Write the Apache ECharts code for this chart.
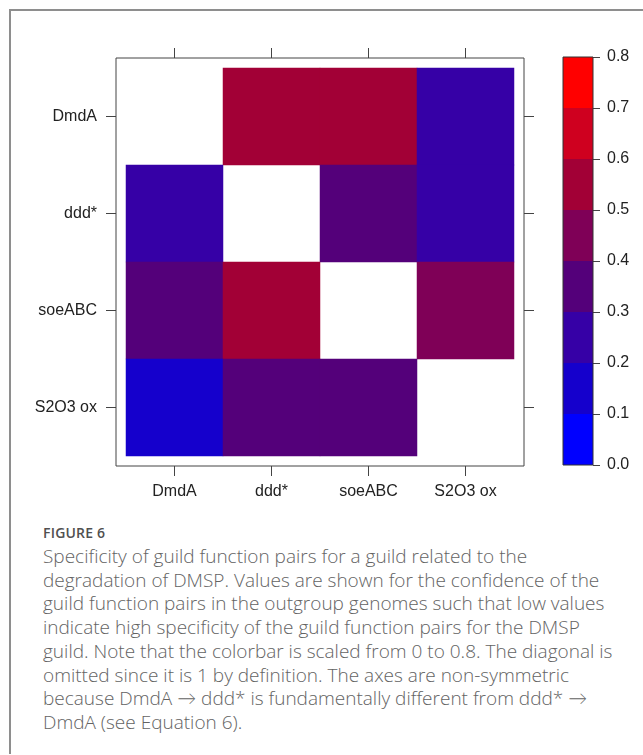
<!DOCTYPE html>
<html>
<head>
<meta charset="utf-8">
<script src="https://cdn.jsdelivr.net/npm/echarts@6/dist/echarts.min.js"></script>
<style>
  html, body { margin: 0; padding: 0; background: #ffffff; }
  #frame {
    position: absolute; left: 9px; top: 9px; width: 640px; height: 743px;
    border-left: 2px solid #8e8e8e; border-top: 2px solid #8e8e8e;
  }
  #chart { position: absolute; left: 0; top: 0; width: 643px; height: 512px; }
  #caption {
    position: absolute; left: 43px; top: 523px; width: 600px;
    font-family: "Open Sans", "Lato", sans-serif; color: #636363;
    white-space: nowrap;
  }
  #caption .fig {
    font-size: 14px; font-weight: 600; letter-spacing: 0.2px; color: #505050;
    line-height: 20px; height: 22px;
  }
  #caption .txt { font-size: 19px; line-height: 23.7px; font-weight: 300; }
</style>
</head>
<body>
<div id="frame"></div>
<div id="chart"></div>
<div id="caption">
  <div class="fig">FIGURE 6</div>
  <div class="txt">
    Specificity of guild function pairs for a guild related to the<br>
    degradation of DMSP. Values are shown for the confidence of the<br>
    guild function pairs in the outgroup genomes such that low values<br>
    indicate high specificity of the guild function pairs for the DMSP<br>
    guild. Note that the colorbar is scaled from 0 to 0.8. The diagonal is<br>
    omitted since it is 1 by definition. The axes are non-symmetric<br>
    because DmdA &rarr; ddd* is fundamentally different from ddd* &rarr;<br>
    DmdA (see Equation 6).
  </div>
</div>
<script>
// Guild functions (same order on both axes; rows listed top to bottom)
const functions = ['DmdA', 'ddd*', 'soeABC', 'S2O3 ox'];

// Confidence of each function pair in outgroup genomes; diagonal omitted (null)
const rowDmdA   = [null, 0.55, 0.56, 0.27];
const rowDdd    = [0.24, null, 0.36, 0.26];
const rowSoeABC = [0.33, 0.57, null, 0.45];
const rowS2O3   = [0.15, 0.35, 0.34, null];
const rows = [rowDmdA, rowDdd, rowSoeABC, rowS2O3];

// Colour scale: break points and the colour of each band
const breaks = [0.0, 0.1, 0.2, 0.3, 0.4, 0.5, 0.6, 0.7, 0.8];
const bandColors = ['#0000ff', '#1500cc', '#3600a6', '#54007a',
                    '#7f0057', '#a20036', '#cf001f', '#ff0000'];

const cells = [];
rows.forEach((row, yi) => {
  row.forEach((v, xi) => { if (v !== null) cells.push([xi, yi, v]); });
});

const pieces = bandColors.map((c, i) => ({ gte: breaks[i], lt: breaks[i + 1], color: c }));

const labelFont = { fontFamily: 'Liberation Sans, Arial, sans-serif', fontSize: 16, color: '#222' };
const tickLine = { color: '#444', width: 1 };

function catAxis(extra) {
  return Object.assign({
    type: 'category', data: functions, gridIndex: 1, offset: 10,
    axisLine: { show: false },
    axisTick: { show: true, alignWithLabel: true, length: 10, lineStyle: tickLine },
    splitLine: { show: false }
  }, extra);
}

// Colour bar built as stacked segments, one per band
const barSeries = bandColors.map((c, i) => ({
  type: 'bar', xAxisIndex: 3, yAxisIndex: 3, stack: 'scale',
  barWidth: '100%', silent: true,
  data: [+(breaks[i + 1] - breaks[i]).toFixed(4)],
  itemStyle: { color: c }
}));

const chart = echarts.init(document.getElementById('chart'), null, { renderer: 'canvas' });
chart.setOption({
  animation: false,
  backgroundColor: 'transparent',
  grid: [
    { left: 116, top: 58, width: 408, height: 408, show: true,
      borderColor: '#444', borderWidth: 1, backgroundColor: 'transparent' },
    { left: 126, top: 68, width: 388, height: 388 },
    { left: 563, top: 57, width: 30, height: 408, show: true,
      borderColor: '#333', borderWidth: 1, backgroundColor: 'transparent', z: 5 }
  ],
  xAxis: [
    { gridIndex: 0, type: 'value', show: false, min: 0, max: 1 },
    catAxis({ position: 'bottom', axisLabel: Object.assign({ margin: 18 }, labelFont) }),
    catAxis({ position: 'top', axisLabel: { show: false } }),
    { gridIndex: 2, type: 'category', data: ['scale'], show: false }
  ],
  yAxis: [
    { gridIndex: 0, type: 'value', show: false, min: 0, max: 1 },
    catAxis({ position: 'left', inverse: true, axisLabel: Object.assign({ margin: 19 }, labelFont) }),
    catAxis({ position: 'right', inverse: true, axisLabel: { show: false } }),
    { gridIndex: 2, type: 'value', position: 'right', min: 0, max: 0.8, interval: 0.1,
      axisLine: { show: false },
      axisTick: { show: true, length: 7, lineStyle: tickLine },
      splitLine: { show: false },
      axisLabel: Object.assign({ margin: 14, formatter: v => v.toFixed(1) }, labelFont) }
  ],
  visualMap: {
    type: 'piecewise', show: false, seriesIndex: 0, dimension: 2, pieces: pieces
  },
  series: [
    { type: 'heatmap', xAxisIndex: 1, yAxisIndex: 1, data: cells,
      itemStyle: { borderWidth: 0 }, emphasis: { disabled: true } }
  ].concat(barSeries)
});
</script>
</body>
</html>
